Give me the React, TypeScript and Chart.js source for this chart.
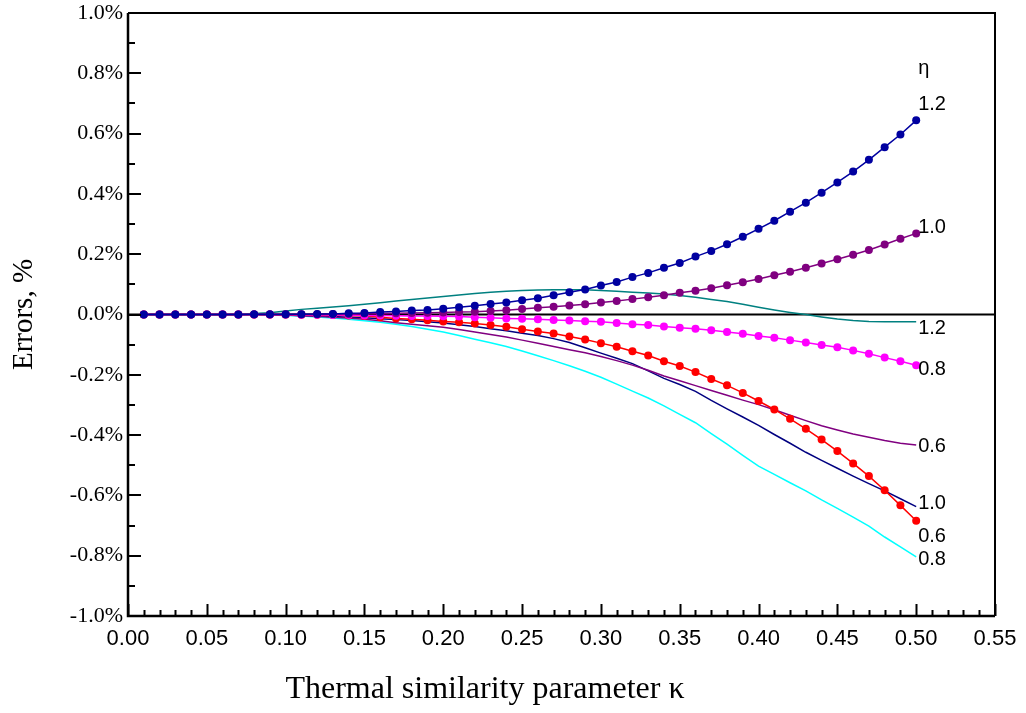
import React, { useEffect, useRef } from 'react';
import { Chart, registerables } from 'chart.js';

Chart.register(...registerables);

// Thermal similarity parameter κ
const kappa = [
  0.01, 0.02, 0.03, 0.04, 0.05, 0.06, 0.07, 0.08, 0.09, 0.10,
  0.11, 0.12, 0.13, 0.14, 0.15, 0.16, 0.17, 0.18, 0.19, 0.20,
  0.21, 0.22, 0.23, 0.24, 0.25, 0.26, 0.27, 0.28, 0.29, 0.30,
  0.31, 0.32, 0.33, 0.34, 0.35, 0.36, 0.37, 0.38, 0.39, 0.40,
  0.41, 0.42, 0.43, 0.44, 0.45, 0.46, 0.47, 0.48, 0.49, 0.50,
];

// Series with markers (errors, %)
const markEta12 = [
  0, 0, 0, 0, 0, 0, 0, 0.001, 0.001, 0.001,
  0.001, 0.002, 0.002, 0.004, 0.005, 0.008, 0.010, 0.013, 0.015, 0.019,
  0.024, 0.029, 0.035, 0.040, 0.047, 0.054, 0.064, 0.074, 0.083, 0.096,
  0.108, 0.124, 0.138, 0.155, 0.171, 0.192, 0.211, 0.233, 0.258, 0.284,
  0.311, 0.341, 0.371, 0.404, 0.438, 0.474, 0.513, 0.555, 0.597, 0.644,
];
const markEta10 = [
  0, 0, 0, 0, 0, 0, 0, 0, 0, 0,
  0.001, 0.001, 0.002, 0.002, 0.003, 0.003, 0.004, 0.005, 0.006, 0.007,
  0.008, 0.009, 0.012, 0.014, 0.018, 0.022, 0.026, 0.030, 0.034, 0.040,
  0.045, 0.051, 0.057, 0.064, 0.072, 0.079, 0.087, 0.097, 0.107, 0.118,
  0.130, 0.142, 0.155, 0.169, 0.183, 0.198, 0.214, 0.232, 0.251, 0.269,
];
const markEta08 = [
  0, 0, 0, 0, 0, 0, 0, 0, 0, 0,
  -0.001, -0.001, -0.002, -0.002, -0.003, -0.003, -0.004, -0.005, -0.005, -0.006,
  -0.007, -0.009, -0.011, -0.013, -0.014, -0.016, -0.018, -0.020, -0.022, -0.024,
  -0.028, -0.032, -0.035, -0.040, -0.044, -0.047, -0.052, -0.058, -0.064, -0.071,
  -0.077, -0.085, -0.093, -0.101, -0.109, -0.119, -0.130, -0.143, -0.155, -0.168,
];
const markEta06 = [
  0, 0, 0, 0, 0, 0, 0, 0, 0, 0,
  -0.001, -0.001, -0.002, -0.003, -0.005, -0.009, -0.013, -0.016, -0.019, -0.023,
  -0.026, -0.030, -0.035, -0.041, -0.049, -0.056, -0.063, -0.073, -0.083, -0.095,
  -0.107, -0.122, -0.136, -0.155, -0.171, -0.191, -0.214, -0.235, -0.260, -0.287,
  -0.315, -0.346, -0.379, -0.415, -0.453, -0.494, -0.536, -0.583, -0.633, -0.684,
];

// Series without markers (errors, %)
const lineEta12 = [
  0, 0, 0, 0, 0, 0, 0.001, 0.003, 0.006, 0.012,
  0.017, 0.021, 0.025, 0.029, 0.034, 0.039, 0.045, 0.050, 0.055, 0.060,
  0.065, 0.070, 0.074, 0.077, 0.080, 0.081, 0.082, 0.082, 0.082, 0.080,
  0.077, 0.074, 0.071, 0.068, 0.063, 0.057, 0.050, 0.043, 0.034, 0.024,
  0.015, 0.007, 0.000, -0.008, -0.015, -0.020, -0.023, -0.024, -0.024, -0.024,
];
const lineEta06 = [
  0, 0, 0, 0, 0, 0, 0, 0, -0.001, -0.002,
  -0.004, -0.006, -0.009, -0.012, -0.016, -0.021, -0.027, -0.032, -0.037, -0.042,
  -0.050, -0.058, -0.066, -0.075, -0.085, -0.095, -0.106, -0.117, -0.127, -0.139,
  -0.153, -0.168, -0.185, -0.204, -0.220, -0.236, -0.252, -0.268, -0.284, -0.299,
  -0.316, -0.334, -0.352, -0.369, -0.383, -0.396, -0.407, -0.418, -0.427, -0.433,
];
const lineEta10 = [
  0, 0, 0, 0, 0, 0, 0, 0, -0.001, -0.002,
  -0.003, -0.005, -0.007, -0.009, -0.011, -0.014, -0.017, -0.020, -0.024, -0.028,
  -0.034, -0.040, -0.047, -0.054, -0.062, -0.070, -0.080, -0.093, -0.110, -0.128,
  -0.145, -0.163, -0.187, -0.212, -0.232, -0.255, -0.285, -0.313, -0.340, -0.368,
  -0.398, -0.427, -0.457, -0.484, -0.510, -0.536, -0.561, -0.585, -0.611, -0.637,
];
const lineEta08 = [
  0, 0, 0, 0, 0, 0, 0, -0.001, -0.002, -0.003,
  -0.005, -0.008, -0.012, -0.016, -0.021, -0.026, -0.032, -0.040, -0.049, -0.058,
  -0.070, -0.082, -0.094, -0.106, -0.121, -0.137, -0.153, -0.170, -0.188, -0.208,
  -0.231, -0.254, -0.277, -0.303, -0.331, -0.359, -0.395, -0.430, -0.467, -0.503,
  -0.530, -0.558, -0.585, -0.615, -0.643, -0.672, -0.702, -0.738, -0.771, -0.804,
];

// Curve labels at the right end (value axis position, %)
const curveLabels = ['η', '1.2', '1.0', '1.2', '0.8', '0.6', '1.0', '0.6', '0.8'];
const curveLabelY = [0.816, 0.697, 0.289, -0.046, -0.182, -0.438, -0.627, -0.736, -0.813];

const xTitle = 'Thermal similarity parameter κ';
const yTitle = 'Errors, %';

const SERIF = '"Liberation Serif", "Times New Roman", serif';
const SANS = '"Liberation Sans", Arial, sans-serif';

const toPts = (vals: number[]) => kappa.map((k, i) => ({ x: k, y: vals[i] }));

const framePlugin = {
  id: 'framePlugin',
  beforeDatasetsDraw(chart: any) {
    const { ctx, chartArea, scales } = chart;
    const y0 = scales.y.getPixelForValue(0);
    ctx.save();
    ctx.strokeStyle = '#000';
    ctx.lineWidth = 2;
    ctx.beginPath();
    ctx.moveTo(chartArea.left, y0);
    ctx.lineTo(chartArea.right, y0);
    ctx.stroke();
    ctx.restore();
  },
  afterDraw(chart: any) {
    const { ctx, chartArea, scales } = chart;
    const { left, right, top, bottom } = chartArea;
    const xs = scales.x;
    const ys = scales.y;
    ctx.save();
    ctx.strokeStyle = '#000';
    // frame
    ctx.lineWidth = 2;
    ctx.beginPath();
    ctx.moveTo(left, top);
    ctx.lineTo(right, top);
    ctx.lineTo(right, bottom);
    ctx.stroke();
    ctx.lineWidth = 2.5;
    ctx.beginPath();
    ctx.moveTo(left, top);
    ctx.lineTo(left, bottom);
    ctx.lineTo(right, bottom);
    ctx.stroke();
    // inward ticks
    ctx.lineWidth = 2;
    ctx.beginPath();
    for (let i = 0; i <= 55; i++) {
      const px = Math.round(xs.getPixelForValue(i / 100)) + 0.5;
      const len = i % 5 === 0 ? 12 : 6;
      ctx.moveTo(px, bottom);
      ctx.lineTo(px, bottom - len);
    }
    for (let i = -10; i <= 10; i++) {
      const py = Math.round(ys.getPixelForValue(i / 10));
      const len = i % 2 === 0 ? 13 : 7;
      ctx.moveTo(left, py);
      ctx.lineTo(left + len, py);
    }
    ctx.stroke();

    // curve labels
    ctx.fillStyle = '#000';
    ctx.font = `20px ${SANS}`;
    ctx.textAlign = 'left';
    ctx.textBaseline = 'middle';
    const lx = xs.getPixelForValue(0.5) + 2;
    curveLabels.forEach((t, i) => {
      ctx.fillText(t, lx, ys.getPixelForValue(curveLabelY[i]));
    });

    // axis titles
    ctx.font = `32px ${SERIF}`;
    ctx.textAlign = 'center';
    ctx.textBaseline = 'alphabetic';
    ctx.fillText(xTitle, 485, 698);
    ctx.save();
    ctx.translate(32, (top + bottom) / 2);
    ctx.rotate(-Math.PI / 2);
    ctx.font = `29px ${SERIF}`;
    ctx.fillText(yTitle, 0, 0);
    ctx.restore();
    ctx.restore();
  },
};

export default function App() {
  const ref = useRef<HTMLCanvasElement | null>(null);

  useEffect(() => {
    if (!ref.current) return;
    const markStyle = (color: string) => ({
      borderColor: color,
      backgroundColor: color,
      pointBackgroundColor: color,
      pointBorderWidth: 0,
      pointRadius: 4,
      borderWidth: 1.5,
      tension: 0,
    });
    const lineStyle = (color: string) => ({
      borderColor: color,
      backgroundColor: color,
      pointRadius: 0,
      borderWidth: 1.5,
      tension: 0,
    });
    const chart = new Chart(ref.current, {
      type: 'line',
      data: {
        datasets: [
          { label: 'η=1.2 (marks)', data: toPts(markEta12), ...markStyle('#0000A0') },
          { label: 'η=1.0 (marks)', data: toPts(markEta10), ...markStyle('#800080') },
          { label: 'η=0.8 (marks)', data: toPts(markEta08), ...markStyle('#FF00FF') },
          { label: 'η=0.6 (marks)', data: toPts(markEta06), ...markStyle('#FF0000') },
          { label: 'η=1.2', data: toPts(lineEta12), ...lineStyle('#008080') },
          { label: 'η=0.6', data: toPts(lineEta06), ...lineStyle('#800080') },
          { label: 'η=1.0', data: toPts(lineEta10), ...lineStyle('#000080') },
          { label: 'η=0.8', data: toPts(lineEta08), ...lineStyle('#00FFFF') },
        ] as any,
      },
      options: {
        animation: false,
        responsive: false,
        maintainAspectRatio: false,
        layout: { padding: { top: 13, right: 31, left: 0, bottom: 0 } },
        plugins: {
          legend: { display: false },
          tooltip: { enabled: false },
          title: { display: false },
        },
        scales: {
          x: {
            type: 'linear',
            min: 0,
            max: 0.55,
            afterFit: (s: any) => {
              s.height = 97;
              s.paddingLeft = 0;
              s.paddingRight = 0;
            },
            grid: { display: false, drawTicks: false },
            border: { display: false },
            ticks: {
              stepSize: 0.05,
              padding: 10,
              color: '#000',
              autoSkip: false,
              maxRotation: 0,
              font: { family: SANS, size: 22 },
              callback: (v: any) => Number(v).toFixed(2),
            },
          },
          y: {
            type: 'linear',
            min: -1,
            max: 1,
            afterFit: (s: any) => {
              s.width = 128;
              s.paddingTop = 0;
              s.paddingBottom = 0;
            },
            grid: { display: false, drawTicks: false },
            border: { display: false },
            ticks: {
              stepSize: 0.2,
              padding: 5,
              color: '#000',
              font: { family: SERIF, size: 22 },
              callback: (v: any) => {
                const n = Math.abs(Number(v)) < 1e-9 ? 0 : Number(v);
                return n.toFixed(1) + '%';
              },
            },
          },
        },
      } as any,
      plugins: [framePlugin],
    });
    return () => chart.destroy();
  }, []);

  return (
    <div style={{ position: 'fixed', left: 0, top: 0, width: 1026, height: 713, background: '#fff' }}>
      <canvas ref={ref} width={1026} height={713} />
    </div>
  );
}
